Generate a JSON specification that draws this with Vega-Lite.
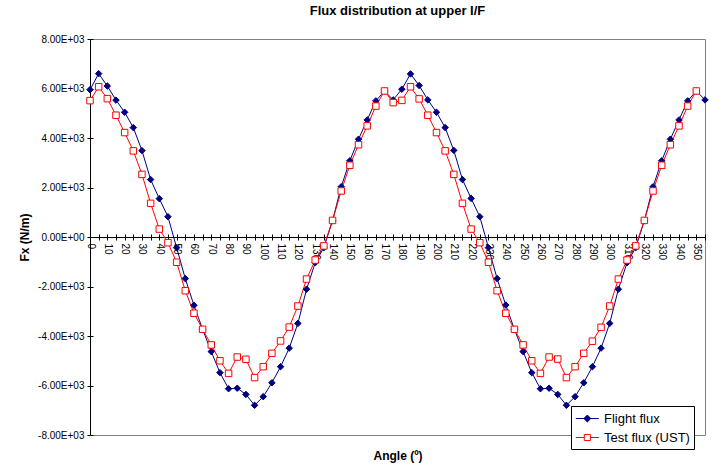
{
  "$schema": "https://vega.github.io/schema/vega-lite/v6.json",
  "width": 615,
  "height": 396,
  "autosize": {"type": "none"},
  "padding": {"left": 90, "top": 39, "right": 20, "bottom": 37},
  "background": "white",
  "config": {
    "font": "Liberation Sans",
    "view": {"stroke": "#808080", "strokeWidth": 1},
    "axis": {"grid": false, "labelColor": "black", "labelFont": "Liberation Sans", "titleFont": "Liberation Sans", "titleColor": "black", "domainColor": "black", "tickColor": "black"},
    "legend": {
      "orient": "none", "legendX": 481, "legendY": 367,
      "strokeColor": "black", "fillColor": "white", "padding": 4, "rowPadding": 3,
      "labelFontSize": 13, "labelFont": "Liberation Sans", "labelColor": "black",
      "symbolSize": 235, "symbolStrokeWidth": 1, "labelOffset": 12, "title": null
    }
  },
  "title": {"text": "Flux distribution at upper I/F", "fontSize": 13, "fontWeight": "bold", "font": "Liberation Sans", "anchor": "middle", "offset": 16, "color": "black"},
  "data": {"values": [
    {"angle": 0, "Flight flux": 5950, "Test flux (UST)": 5510},
    {"angle": 5, "Flight flux": 6600, "Test flux (UST)": 6070},
    {"angle": 10, "Flight flux": 6100, "Test flux (UST)": 5590},
    {"angle": 15, "Flight flux": 5530, "Test flux (UST)": 4920},
    {"angle": 20, "Flight flux": 5040, "Test flux (UST)": 4220},
    {"angle": 25, "Flight flux": 4420, "Test flux (UST)": 3480},
    {"angle": 30, "Flight flux": 3490, "Test flux (UST)": 2530},
    {"angle": 35, "Flight flux": 2320, "Test flux (UST)": 1360},
    {"angle": 40, "Flight flux": 1550, "Test flux (UST)": 320},
    {"angle": 45, "Flight flux": 820, "Test flux (UST)": -230},
    {"angle": 50, "Flight flux": -430, "Test flux (UST)": -1020},
    {"angle": 55, "Flight flux": -1680, "Test flux (UST)": -2170},
    {"angle": 60, "Flight flux": -2760, "Test flux (UST)": -3080},
    {"angle": 65, "Flight flux": -3730, "Test flux (UST)": -3730},
    {"angle": 70, "Flight flux": -4630, "Test flux (UST)": -4360},
    {"angle": 75, "Flight flux": -5480, "Test flux (UST)": -5000},
    {"angle": 80, "Flight flux": -6130, "Test flux (UST)": -5510},
    {"angle": 85, "Flight flux": -6110, "Test flux (UST)": -4850},
    {"angle": 90, "Flight flux": -6360, "Test flux (UST)": -4940},
    {"angle": 95, "Flight flux": -6800, "Test flux (UST)": -5680},
    {"angle": 100, "Flight flux": -6450, "Test flux (UST)": -5240},
    {"angle": 105, "Flight flux": -5890, "Test flux (UST)": -4700},
    {"angle": 110, "Flight flux": -5240, "Test flux (UST)": -4200},
    {"angle": 115, "Flight flux": -4490, "Test flux (UST)": -3640},
    {"angle": 120, "Flight flux": -3490, "Test flux (UST)": -2790},
    {"angle": 125, "Flight flux": -2110, "Test flux (UST)": -1700},
    {"angle": 130, "Flight flux": -1040, "Test flux (UST)": -930},
    {"angle": 135, "Flight flux": -430, "Test flux (UST)": -360},
    {"angle": 140, "Flight flux": 660, "Test flux (UST)": 670},
    {"angle": 145, "Flight flux": 2030, "Test flux (UST)": 1860},
    {"angle": 150, "Flight flux": 3080, "Test flux (UST)": 2900},
    {"angle": 155, "Flight flux": 3950, "Test flux (UST)": 3730},
    {"angle": 160, "Flight flux": 4730, "Test flux (UST)": 4490},
    {"angle": 165, "Flight flux": 5500, "Test flux (UST)": 5290},
    {"angle": 170, "Flight flux": 5900, "Test flux (UST)": 5900},
    {"angle": 175, "Flight flux": 5540, "Test flux (UST)": 5430},
    {"angle": 180, "Flight flux": 5970, "Test flux (UST)": 5520},
    {"angle": 185, "Flight flux": 6590, "Test flux (UST)": 6070},
    {"angle": 190, "Flight flux": 6120, "Test flux (UST)": 5580},
    {"angle": 195, "Flight flux": 5540, "Test flux (UST)": 4920},
    {"angle": 200, "Flight flux": 5040, "Test flux (UST)": 4220},
    {"angle": 205, "Flight flux": 4420, "Test flux (UST)": 3480},
    {"angle": 210, "Flight flux": 3500, "Test flux (UST)": 2530},
    {"angle": 215, "Flight flux": 2320, "Test flux (UST)": 1360},
    {"angle": 220, "Flight flux": 1560, "Test flux (UST)": 320},
    {"angle": 225, "Flight flux": 820, "Test flux (UST)": -230},
    {"angle": 230, "Flight flux": -430, "Test flux (UST)": -1020},
    {"angle": 235, "Flight flux": -1680, "Test flux (UST)": -2170},
    {"angle": 240, "Flight flux": -2750, "Test flux (UST)": -3080},
    {"angle": 245, "Flight flux": -3730, "Test flux (UST)": -3730},
    {"angle": 250, "Flight flux": -4630, "Test flux (UST)": -4360},
    {"angle": 255, "Flight flux": -5480, "Test flux (UST)": -5000},
    {"angle": 260, "Flight flux": -6130, "Test flux (UST)": -5510},
    {"angle": 265, "Flight flux": -6110, "Test flux (UST)": -4850},
    {"angle": 270, "Flight flux": -6360, "Test flux (UST)": -4930},
    {"angle": 275, "Flight flux": -6800, "Test flux (UST)": -5680},
    {"angle": 280, "Flight flux": -6450, "Test flux (UST)": -5240},
    {"angle": 285, "Flight flux": -5890, "Test flux (UST)": -4700},
    {"angle": 290, "Flight flux": -5240, "Test flux (UST)": -4210},
    {"angle": 295, "Flight flux": -4490, "Test flux (UST)": -3650},
    {"angle": 300, "Flight flux": -3490, "Test flux (UST)": -2790},
    {"angle": 305, "Flight flux": -2110, "Test flux (UST)": -1700},
    {"angle": 310, "Flight flux": -1040, "Test flux (UST)": -930},
    {"angle": 315, "Flight flux": -430, "Test flux (UST)": -360},
    {"angle": 320, "Flight flux": 660, "Test flux (UST)": 670},
    {"angle": 325, "Flight flux": 2030, "Test flux (UST)": 1860},
    {"angle": 330, "Flight flux": 3080, "Test flux (UST)": 2900},
    {"angle": 335, "Flight flux": 3950, "Test flux (UST)": 3730},
    {"angle": 340, "Flight flux": 4730, "Test flux (UST)": 4490},
    {"angle": 345, "Flight flux": 5500, "Test flux (UST)": 5290},
    {"angle": 350, "Flight flux": 5900, "Test flux (UST)": 5900},
    {"angle": 355, "Flight flux": 5540, "Test flux (UST)": null}
  ]},
  "transform": [{"fold": ["Flight flux", "Test flux (UST)"], "as": ["series", "value"]}],
  "layer": [
    {
      "mark": {"type": "line", "strokeWidth": 1, "clip": false},
      "encoding": {
        "x": {"field": "angle", "type": "quantitative",
          "scale": {"domain": [0, 355], "nice": false, "zero": false},
          "axis": {"orient": "bottom", "offset": -198, "values": [0,5,10,15,20,25,30,35,40,45,50,55,60,65,70,75,80,85,90,95,100,105,110,115,120,125,130,135,140,145,150,155,160,165,170,175,180,185,190,195,200,205,210,215,220,225,230,235,240,245,250,255,260,265,270,275,280,285,290,295,300,305,310,315,320,325,330,335,340,345,350,355],
            "labelExpr": "datum.value % 10 === 0 ? datum.label : ''", "labelAngle": 90, "labelAlign": "left", "labelBaseline": "middle", "labelPadding": 3, "labelFontSize": 10, "labelOverlap": false, "labelFlush": false,
            "tickSize": 3, "domainWidth": 1, "tickWidth": 1,
            "title": "Angle (º)", "titleFontSize": 12, "titleFontWeight": "bold", "titleY": 218, "titleBaseline": "middle"}},
        "y": {"field": "value", "type": "quantitative",
          "scale": {"domain": [-8000, 8000], "nice": false, "zero": false},
          "axis": {"orient": "left", "values": [-8000,-6000,-4000,-2000,0,2000,4000,6000,8000],
            "labelExpr": "(datum.value<0?'-':'')+format(abs(datum.value)/1000,'.2f')+(datum.value==0?'E+00':'E+03')",
            "labelFontSize": 10, "labelPadding": 3, "tickSize": 3, "domainWidth": 1,
            "title": "Fx (N/m)", "titleFontSize": 12, "titleFontWeight": "bold", "titleX": -66, "titleY": 198, "titleAngle": -90, "titleAlign": "center", "titleBaseline": "middle"}},
        "stroke": {"field": "series", "type": "nominal", "scale": {"domain": ["Flight flux", "Test flux (UST)"], "range": ["#000080", "#FF0000"]},
          "legend": {"encode": {"symbols": {"update": {
            "shape": {"signal": "datum.value === 'Flight flux' ? 'M-1,0H2M0.5,-0.45L0.95,0L0.5,0.45L0.05,0Z' : 'M-1,0H0.1M0.9,0H2M0.1,-0.4H0.9V0.4H0.1Z'"},
            "stroke": {"signal": "datum.value === 'Flight flux' ? '#000080' : '#FF0000'"},
            "fill": {"signal": "datum.value === 'Flight flux' ? '#000080' : '#FFFFFF'"},
            "strokeWidth": {"value": 1},
            "opacity": {"value": 1}
          }}}}}
      }
    },
    {
      "mark": {"type": "point", "strokeWidth": 1, "size": 42, "opacity": 1, "clip": false},
      "encoding": {
        "x": {"field": "angle", "type": "quantitative",
          "axis": {"orient": "top", "offset": -198, "values": [0,5,10,15,20,25,30,35,40,45,50,55,60,65,70,75,80,85,90,95,100,105,110,115,120,125,130,135,140,145,150,155,160,165,170,175,180,185,190,195,200,205,210,215,220,225,230,235,240,245,250,255,260,265,270,275,280,285,290,295,300,305,310,315,320,325,330,335,340,345,350,355],
            "labels": false, "domain": false, "tickSize": 3, "title": null}},
        "y": {"field": "value", "type": "quantitative",
          "axis": {"orient": "right", "offset": -615, "values": [-8000,-6000,-4000,-2000,0,2000,4000,6000,8000], "labels": false, "domain": false, "tickSize": 3, "title": null}},
        "stroke": {"field": "series", "type": "nominal"},
        "fill": {"condition": {"test": "datum.series === 'Flight flux'", "value": "#000080"}, "value": "#FFFFFF"},
        "shape": {"condition": {"test": "datum.series === 'Flight flux'", "value": "diamond"}, "value": "square"}
      }
    }
  ],
  "resolve": {"axis": {"x": "independent", "y": "independent"}}
}
